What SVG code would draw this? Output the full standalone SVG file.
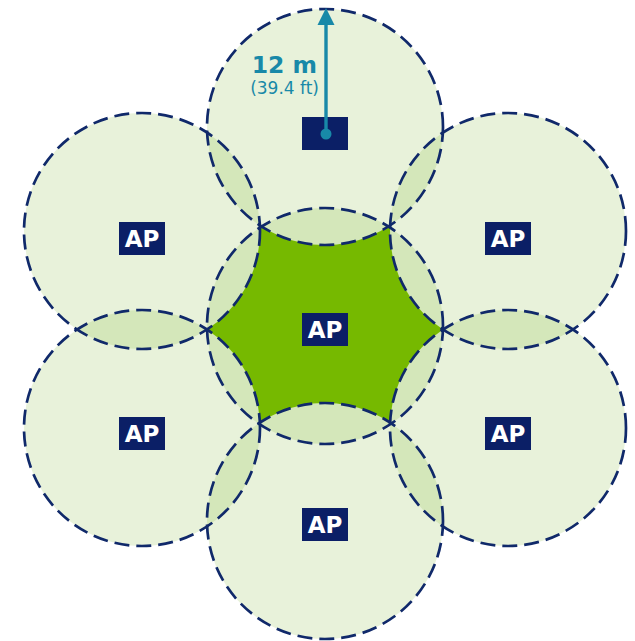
<svg xmlns="http://www.w3.org/2000/svg" width="635" height="641" viewBox="0 0 635 641">
  <style>
    .cov { fill: #66a808; fill-opacity: 0.15; stroke: none; }
    .rim { fill: none; stroke: #10296a; stroke-width: 2.7; stroke-dasharray: 15 7; }
    .box { fill: #0b1f66; }
    .ap { font-family: "DejaVu Sans", "Liberation Sans", sans-serif; font-weight: bold; font-size: 23px; fill: #ffffff; text-anchor: middle; }
    .teal { fill: #1889a8; }
  </style>
  <defs>
    <mask id="hole" maskUnits="userSpaceOnUse" x="0" y="0" width="635" height="641">
      <rect x="0" y="0" width="635" height="641" fill="black"/>
      <circle cx="325" cy="326" r="118" fill="white"/>
      <circle cx="325" cy="127" r="118" fill="black"/>
      <circle cx="325" cy="521" r="118" fill="black"/>
      <circle cx="142" cy="231" r="118" fill="black"/>
      <circle cx="508" cy="231" r="118" fill="black"/>
      <circle cx="142" cy="428" r="118" fill="black"/>
      <circle cx="508" cy="428" r="118" fill="black"/>
    </mask>
  </defs>
  <rect x="0" y="0" width="635" height="641" fill="#ffffff"/>
  <g id="coverage">
    <circle class="cov" cx="325" cy="127" r="118"/>
    <circle class="cov" cx="142" cy="231" r="118"/>
    <circle class="cov" cx="508" cy="231" r="118"/>
    <circle class="cov" cx="325" cy="326" r="118"/>
    <circle class="cov" cx="142" cy="428" r="118"/>
    <circle class="cov" cx="508" cy="428" r="118"/>
    <circle class="cov" cx="325" cy="521" r="118"/>
    <rect x="190" y="190" width="270" height="270" fill="#76b900" mask="url(#hole)"/>
  </g>
  <g id="ap-top">
    <circle class="rim" cx="325" cy="127" r="118"/>
    <rect class="box" x="302" y="117" width="46" height="33"/>
  </g>
  <g id="ap-upper-left">
    <circle class="rim" cx="142" cy="231" r="118"/>
    <rect class="box" x="119" y="222" width="46" height="33"/>
    <text class="ap" x="142" y="247">AP</text>
  </g>
  <g id="ap-upper-right">
    <circle class="rim" cx="508" cy="231" r="118"/>
    <rect class="box" x="485" y="222" width="46" height="33"/>
    <text class="ap" x="508" y="247">AP</text>
  </g>
  <g id="ap-center">
    <circle class="rim" cx="325" cy="326" r="118"/>
    <rect class="box" x="302" y="313" width="46" height="33"/>
    <text class="ap" x="325" y="338">AP</text>
  </g>
  <g id="ap-lower-left">
    <circle class="rim" cx="142" cy="428" r="118"/>
    <rect class="box" x="119" y="417" width="46" height="33"/>
    <text class="ap" x="142" y="442">AP</text>
  </g>
  <g id="ap-lower-right">
    <circle class="rim" cx="508" cy="428" r="118"/>
    <rect class="box" x="485" y="417" width="46" height="33"/>
    <text class="ap" x="508" y="442">AP</text>
  </g>
  <g id="ap-bottom">
    <circle class="rim" cx="325" cy="521" r="118"/>
    <rect class="box" x="302" y="508" width="46" height="33"/>
    <text class="ap" x="325" y="533">AP</text>
  </g>
  <g id="connectors">
    <line x1="326" y1="134" x2="326" y2="22" stroke="#1889a8" stroke-width="3.4"/>
    <polygon class="teal" points="317.5,25 334.5,25 326,8"/>
    <circle class="teal" cx="326" cy="134" r="5.5"/>
  </g>
  <g id="labels">
    <text x="317" y="73" text-anchor="end" font-family="DejaVu Sans, Liberation Sans, sans-serif" font-weight="bold" font-size="23.5" fill="#1889a8">12 m</text>
    <text x="319" y="94" text-anchor="end" font-family="DejaVu Sans, Liberation Sans, sans-serif" font-size="17" fill="#1889a8">(39.4 ft)</text>
  </g>
</svg>
